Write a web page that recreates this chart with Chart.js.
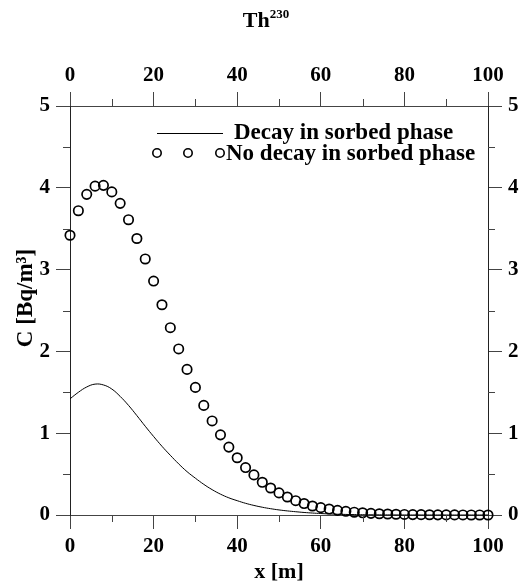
<!DOCTYPE html>
<html><head><meta charset="utf-8">
<script src="https://cdn.jsdelivr.net/npm/chart.js@4"></script>
<style>html,body{margin:0;padding:0;background:#fff}#wrap{width:528px;height:586px}</style>
</head><body><div id="wrap"><canvas id="c" width="528" height="586"></canvas></div>
<script>
const xPositions = [0,2,4,6,8,10,12,14,16,18,20,22,24,26,28,30,32,34,36,38,40,42,44,46,48,50,52,54,56,58,60,62,64,66,68,70,72,74,76,78,80,82,84,86,88,90,92,94,96,98,100];
const decayValues = [1.42,1.50,1.565,1.60,1.59,1.54,1.45,1.34,1.215,1.085,0.96,
  0.84,0.73,0.625,0.53,0.45,0.375,0.31,0.255,0.21,0.175,
  0.143,0.117,0.095,0.077,0.062,0.05,0.04,0.031,0.024,0.018,
  0.013,0.0095,0.007,0.005,0.0035,0.0025,0.0018,0.0012,0.0008,0.0005,
  0.0003,0.0002,0.0001,0.0001,0,0,0,0,0,0];
const noDecayValues = [3.42,3.72,3.92,4.02,4.03,3.95,3.81,3.61,3.38,3.13,2.86,
  2.57,2.29,2.03,1.78,1.56,1.34,1.15,0.98,0.83,0.70,
  0.58,0.49,0.40,0.33,0.27,0.22,0.175,0.14,0.11,0.09,
  0.073,0.057,0.045,0.034,0.027,0.02,0.015,0.012,0.009,0.007,
  0.005,0.004,0.003,0.002,0.0015,0.001,0.0008,0.0006,0.0004,0.0003];
const xMajorStep = 20;
const yMajorStep = 1;
const xMinorTicks = [10,30,50,70,90];
const yMinorTicks = [0.5,1.5,2.5,3.5,4.5];
const seriesNames = ['Decay in sorbed phase','No decay in sorbed phase'];
const titleMain = 'Th';
const titleSup = '230';
const xTitle = 'x [m]';
const yTitle = 'C [Bq/m\u00B3]';

const FONT = "'Liberation Serif','Times New Roman',serif";
const AXC = '#444';

function pts(ys){ return xPositions.map((x,i)=>({x:x,y:ys[i]})); }

const decorPlugin = {
  id:'decor',
  afterDraw(chart){
    const ctx = chart.ctx;
    const ca = chart.chartArea;
    const sx = chart.scales.x, sy = chart.scales.y;
    ctx.save();
    // minor ticks
    ctx.strokeStyle = AXC; ctx.lineWidth = 1;
    xMinorTicks.forEach(v=>{
      const px = Math.round(sx.getPixelForValue(v))+0.5;
      ctx.beginPath();
      ctx.moveTo(px, ca.top); ctx.lineTo(px, ca.top-7);
      ctx.moveTo(px, ca.bottom); ctx.lineTo(px, ca.bottom+7);
      ctx.stroke();
    });
    yMinorTicks.forEach(v=>{
      const py = Math.round(sy.getPixelForValue(v))+0.5;
      ctx.beginPath();
      ctx.moveTo(ca.left, py); ctx.lineTo(ca.left-7, py);
      ctx.moveTo(ca.right, py); ctx.lineTo(ca.right+7, py);
      ctx.stroke();
    });
    // title
    ctx.fillStyle = '#000';
    ctx.textBaseline = 'alphabetic';
    ctx.font = "bold 22px " + FONT;
    const w1 = ctx.measureText(titleMain).width;
    ctx.font = "bold 13px " + FONT;
    const w2 = ctx.measureText(titleSup).width;
    const tx = 264 - (w1+w2)/2 + 2;
    ctx.font = "bold 22px " + FONT;
    ctx.textAlign = 'left';
    ctx.fillText(titleMain, tx, 27);
    ctx.font = "bold 13px " + FONT;
    ctx.fillText(titleSup, tx + w1, 18);
    // y title
    ctx.save();
    ctx.translate(26, 298);
    ctx.rotate(-Math.PI/2);
    ctx.font = "bold 23px " + FONT;
    ctx.textAlign = 'center';
    ctx.textBaseline = 'middle';
    ctx.fillText(yTitle, 0, 0);
    ctx.restore();
    // legend
    const ds0 = chart.data.datasets[0], ds1 = chart.data.datasets[1];
    ctx.strokeStyle = ds0.borderColor; ctx.lineWidth = ds0.borderWidth;
    ctx.beginPath(); ctx.moveTo(157, 133.5); ctx.lineTo(223, 133.5); ctx.stroke();
    ctx.strokeStyle = ds1.borderColor; ctx.lineWidth = 1.6;
    [157,188,220].forEach(cx=>{ ctx.beginPath(); ctx.arc(cx,153,4.2,0,Math.PI*2); ctx.stroke(); });
    ctx.font = "bold 23px " + FONT;
    ctx.textAlign = 'left'; ctx.textBaseline = 'middle';
    ctx.fillText(seriesNames[0], 234, 133);
    ctx.fillText(seriesNames[1], 226, 154);
    ctx.restore();
  }
};

const tickFont = {family: FONT, size: 21, weight: 'bold'};
function xScale(pos, h, withTitle, pad){
  return {
    type:'linear', position:pos, axis:'x', min:0, max:100,
    ticks:{stepSize:xMajorStep, color:'#000', font:tickFont, padding:pad, maxRotation:0},
    grid:{drawOnChartArea:false, drawTicks:true, tickLength:14, color:AXC},
    border:{display:true, color:AXC, width:1},
    title: withTitle ? {display:true, text:xTitle, color:'#000', font:{family:FONT,size:22,weight:'bold'}, padding:{top:4,bottom:0}} : {display:false},
    afterFit(s){ s.height = h; }
  };
}
function yScale(pos, w){
  return {
    type:'linear', position:pos, axis:'y', min:0, max:5,
    ticks:{stepSize:yMajorStep, color:'#000', font:tickFont, padding:6},
    grid:{drawOnChartArea:false, drawTicks:true, tickLength:14, color:AXC},
    border:{display:true, color:'#222', width:1},
    afterFit(s){ s.width = w; }
  };
}

new Chart(document.getElementById('c'), {
  type:'scatter',
  data:{datasets:[
    {label:seriesNames[0], data:pts(decayValues), showLine:true, borderColor:'#000', borderWidth:1,
     pointRadius:0, pointHoverRadius:0, tension:0.4, xAxisID:'x', yAxisID:'y', clip:false},
    {label:seriesNames[1], data:pts(noDecayValues), showLine:false, borderColor:'#000', backgroundColor:'rgba(0,0,0,0)',
     pointStyle:'circle', pointRadius:4.7, pointBorderWidth:1.7, pointBorderColor:'#000', pointBackgroundColor:'rgba(0,0,0,0)',
     xAxisID:'x', yAxisID:'y', clip:false}
  ]},
  options:{
    responsive:false, animation:false, devicePixelRatio:1,
    layout:{padding:0},
    plugins:{legend:{display:false}, title:{display:false}, tooltip:{enabled:false}},
    scales:{
      x: xScale('bottom', 71, true, 5),
      x2: xScale('top', 106, false, 4),
      y: yScale('left', 70),
      y2: yScale('right', 40)
    }
  },
  plugins:[decorPlugin]
});
</script></body></html>
